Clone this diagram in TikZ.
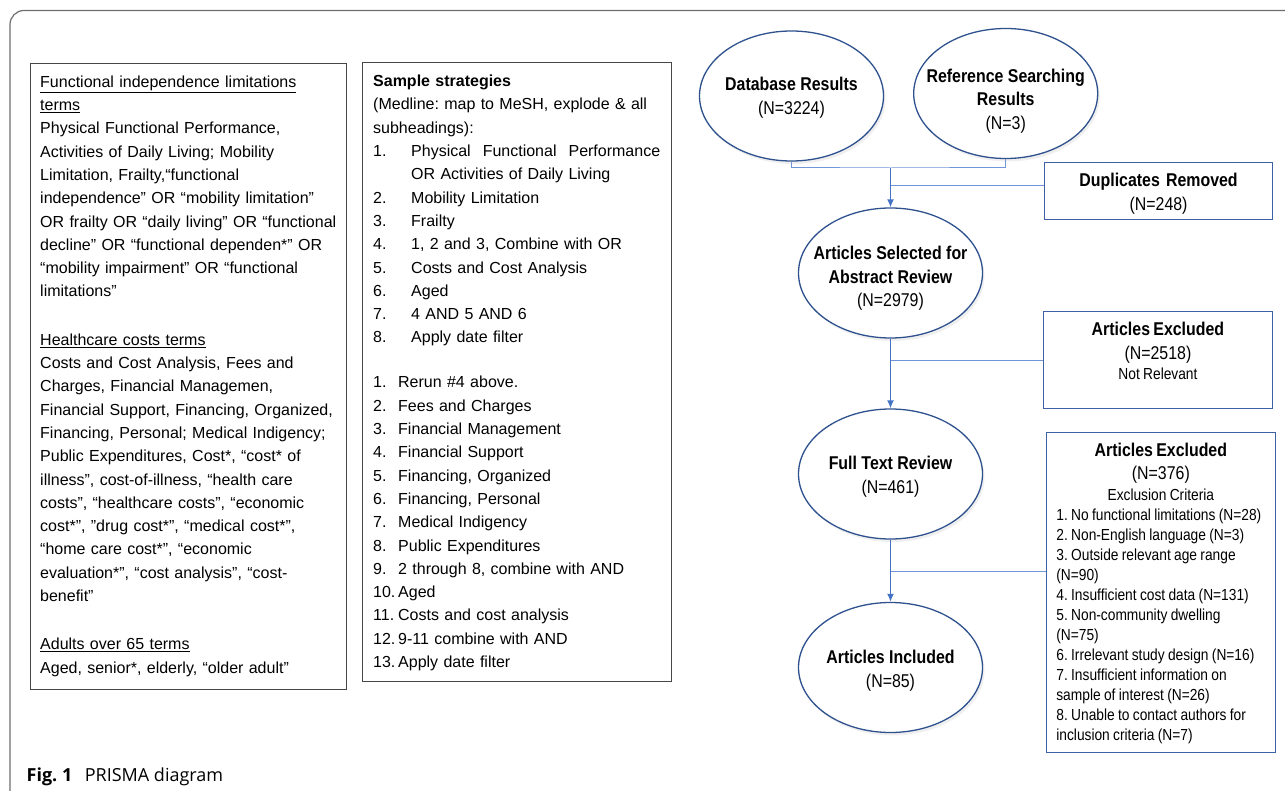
\documentclass[tikz,border=0pt]{standalone}
\usepackage{fontspec}
\setmainfont{Liberation Sans}
\newfontfamily\nar[FakeStretch=0.86]{Liberation Sans}
\newfontfamily\capfont{Open Sans}
\usetikzlibrary{shapes.geometric,arrows.meta,shadows}
\definecolor{ellcol}{RGB}{47,82,143}
\definecolor{arrcol}{RGB}{68,114,196}
\definecolor{lincol}{RGB}{112,150,215}
\definecolor{boxcol}{RGB}{62,96,166}
\definecolor{framecol}{RGB}{110,110,110}
\definecolor{lboxcol}{RGB}{70,70,70}
\newcommand\lnumA[1]{\makebox[38pt][l]{#1}}
\newcommand\lnumB[1]{\makebox[25pt][l]{#1}}
% zero-size text block for ellipses; #1 = downward offset of block centre
\newcommand\ETxt[2]{\makebox[0pt]{\raisebox{\dimexpr -#1 - 4.625pt\relax}[0pt][0pt]{\begin{tabular}{@{}c@{}}#2\end{tabular}}}}
\frenchspacing
\begin{document}
\begin{tikzpicture}[x=1pt,y=-1pt,
  ell/.style={ellipse, draw=ellcol, line width=1.3pt, fill=white,
    minimum width=184pt, minimum height=130pt, inner sep=0pt,
    font=\nar\fontsize{18.5}{23.5}\selectfont,
    drop shadow={shadow xshift=2pt, shadow yshift=-3pt, opacity=0.12}},
  bx/.style={draw=boxcol, line width=1.3pt, fill=white, anchor=north west,
    inner ysep=0pt},
  lbox/.style={draw=lboxcol, line width=0.8pt, anchor=north west, inner sep=0pt},
  ltxt/.style={anchor=base west, inner sep=0pt, align=left,
    font=\fontsize{16}{23.3}\selectfont},
  conn/.style={draw=arrcol, line width=1.4pt},
  arr/.style={conn, -{Latex[length=8pt,width=7pt]}},
  thin/.style={draw=lincol, line width=1pt}
]
\useasboundingbox (0,0) rectangle (1285,791);
\fill[white] (0,0) rectangle (1285,791);
\draw[framecol, line width=1.2pt, rounded corners=14pt] (10,791) -- (10,10.5) -- (1285,10.5);

% left box
\node[lbox, minimum width=316pt, minimum height=626pt] (lb) at (30,63) {};
\node[ltxt, text width=300pt] (lt) at (40,87.3) {%
\underline{Functional independence limitations}\\
\underline{terms}\\
Physical Functional Performance,\\
Activities of Daily Living; Mobility\\
Limitation, Frailty,“functional\\
independence” OR “mobility limitation”\\
OR frailty OR “daily living” OR “functional\\
decline” OR “functional dependen*” OR\\
“mobility impairment” OR “functional\\
limitations”\\[25pt]
\underline{Healthcare costs terms}\\
Costs and Cost Analysis, Fees and\\
Charges, Financial Managemen,\\
Financial Support, Financing, Organized,\\
Financing, Personal; Medical Indigency;\\
Public Expenditures, Cost*, “cost* of\\
illness”, cost-of-illness, “health care\\
costs”, “healthcare costs”, “economic\\
cost*”, ”drug cost*”, “medical cost*”,\\
“home care cost*”, “economic\\
evaluation*”, “cost analysis”, “cost-\\
benefit”\\[25pt]
\underline{Adults over 65 terms}\\
Aged, senior*, elderly, “older adult”};

% middle box
\node[lbox, minimum width=309pt, minimum height=619pt] (mb) at (362,62) {};
\node[ltxt, text width=292pt] (mt) at (373,86.7) {%
\textbf{Sample strategies}\\
(Medline: map to MeSH, explode \& all\\
subheadings):\\
\lnumA{1.}\makebox[249pt][l]{Physical\hfill Functional\hfill Performance}\\
\hspace*{38pt}OR Activities of Daily Living\\
\lnumA{2.}Mobility Limitation\\
\lnumA{3.}Frailty\\
\lnumA{4.}1, 2 and 3, Combine with OR\\
\lnumA{5.}Costs and Cost Analysis\\
\lnumA{6.}Aged\\
\lnumA{7.}4 AND 5 AND 6\\
\lnumA{8.}Apply date filter\\[21.7pt]
\lnumB{1.}Rerun \#4 above.\\
\lnumB{2.}Fees and Charges\\
\lnumB{3.}Financial Management\\
\lnumB{4.}Financial Support\\
\lnumB{5.}Financing, Organized\\
\lnumB{6.}Financing, Personal\\
\lnumB{7.}Medical Indigency\\
\lnumB{8.}Public Expenditures\\
\lnumB{9.}2 through 8, combine with AND\\
\lnumB{10.}Aged\\
\lnumB{11.}Costs and cost analysis\\
\lnumB{12.}9-11 combine with AND\\
\lnumB{13.}Apply date filter};

% flow chart
\node[ell] (db) at (791.5,96) {\ETxt{1.3pt}{\textbf{Database Results}\\(N=3224)}};
\node[ell] (ref) at (1005.7,93.5) {\ETxt{7.3pt}{\textbf{Reference Searching}\\\textbf{Results}\\(N=3)}};
\node[ell] (sel) at (890.5,273) {\ETxt{5.1pt}{\textbf{Articles Selected for}\\\textbf{Abstract Review}\\(N=2979)}};
\node[ell] (full) at (890.5,474) {\ETxt{2.3pt}{\textbf{Full Text Review}\\(N=461)}};
\node[ell] (inc) at (890.5,667.5) {\ETxt{3.2pt}{\textbf{Articles Included}\\(N=85)}};

\node[bx, inner xsep=0pt, text width=228pt, text height=23.8pt, text depth=33.2pt,
  align=center, font=\nar\fontsize{18.5}{24}\selectfont] (dup) at (1043.9,162)
  {\textbf{Duplicates Removed}\\(N=248)};

\node[bx, inner xsep=0pt, text width=229pt, text height=24pt, text depth=73pt,
  align=center, font=\nar] (ex1) at (1042.8,311)
  {{\fontsize{18.5}{23.5}\selectfont\textbf{Articles Excluded}\\(N=2518)\par}
   {\fontsize{16}{20.5}\selectfont Not Relevant\par}};

\node[bx, inner xsep=10pt, text width=209pt, text height=23.5pt, text depth=296.5pt,
  align=left, font=\nar] (ex2) at (1045.7,432)
  {{\centering\fontsize{18.5}{23.5}\selectfont\textbf{Articles Excluded}\\(N=376)\par}
   {\centering\fontsize{16}{21}\selectfont Exclusion Criteria\par}
   {\raggedright\fontsize{16}{20}\selectfont
   1. No functional limitations (N=28)\\
   2. Non-English language (N=3)\\
   3. Outside relevant age range\\
   (N=90)\\
   4. Insufficient cost data (N=131)\\
   5. Non-community dwelling\\
   (N=75)\\
   6. Irrelevant study design (N=16)\\
   7. Insufficient information on\\
   sample of interest (N=26)\\
   8. Unable to contact authors for\\
   inclusion criteria (N=7)\par}};

\coordinate (jtop) at (890.5,168);
\coordinate (j1) at (890.5,186);
\coordinate (j2) at (890.5,361);
\coordinate (j3) at (890.5,571);
\draw[thin] (db.south) |- (jtop) -| (ref.south);
\draw[arr] (jtop) -- (sel.north);
\draw[thin] (dup.west |- j1) -- (j1);
\draw[arr] (sel.south) -- (full.north);
\draw[thin] (ex1.west |- j2) -- (j2);
\draw[arr] (full.south) -- (inc.north);
\draw[thin] (ex2.west |- j3) -- (j3);

\node[anchor=base west, inner sep=0pt, font=\capfont\fontsize{18}{21}\selectfont] (cap)
  at (26.5,781) {\textbf{Fig. 1}\hspace{12.5pt}PRISMA diagram};
\end{tikzpicture}
\end{document}
